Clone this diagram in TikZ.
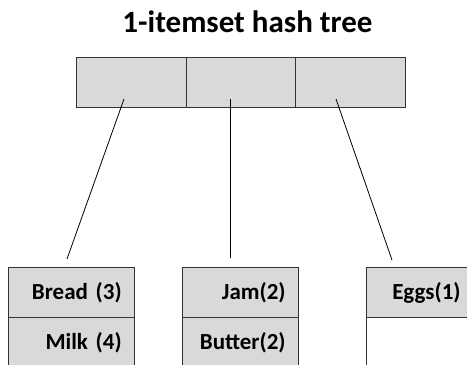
\documentclass[tikz,border=0pt]{standalone}
\usepackage{fontspec}
\setmainfont{Carlito}
\definecolor{cellfill}{HTML}{D9D9D9}
\definecolor{celledge}{HTML}{333333}
\begin{document}
\begin{tikzpicture}[x=1pt,y=-1pt,
  hashcell/.style={draw=celledge,line width=1.4pt,fill=cellfill,minimum width=109.5pt,minimum height=50pt,inner sep=0pt,anchor=north west},
  leafcell/.style={draw=celledge,line width=1.3pt,fill=cellfill,minimum height=50pt,minimum width=#1,
    inner xsep=13pt,inner ysep=0pt,text width=#1-26pt,anchor=north west,
    font=\fontsize{23}{26}\selectfont\bfseries,align=right},
  link/.style={line width=0.8pt,black}]
\useasboundingbox (0,0) rectangle (467,365);
\clip (0,0) rectangle (467,365);

% title
\node[font=\fontsize{31}{36}\selectfont\bfseries,anchor=base] (title) at (247.5,32) {1-itemset hash tree};

% hash table with three buckets
\node[hashcell] (c1) at (76,57) {};
\node[hashcell] (c2) at (185.5,57) {};
\node[hashcell] (c3) at (295,57) {};

% leaf buckets
\node[leafcell=126pt] (l1a) at (8,267) {Bread (3)};
\node[leafcell=126pt] (l1b) at (8,317) {Milk (4)};
\node[leafcell=116pt] (l2a) at (182,267) {Jam(2)};
\node[leafcell=116pt] (l2b) at (182,317) {Butter(2)};
\node[leafcell=107pt] (l3a) at (366,267) {Eggs(1)};
\node[leafcell=107pt,fill=white] (l3b) at (366,317) {};

% connectors from buckets to leaves
\coordinate (p1) at (124,99);
\coordinate (q1) at (67,259);
\coordinate (p2) at (230,99);
\coordinate (q2) at (230,258);
\coordinate (p3) at (336,99);
\coordinate (q3) at (392,260);
\draw[link] (p1) -- (q1);
\draw[link] (p2) -- (q2);
\draw[link] (p3) -- (q3);
\end{tikzpicture}
\end{document}
